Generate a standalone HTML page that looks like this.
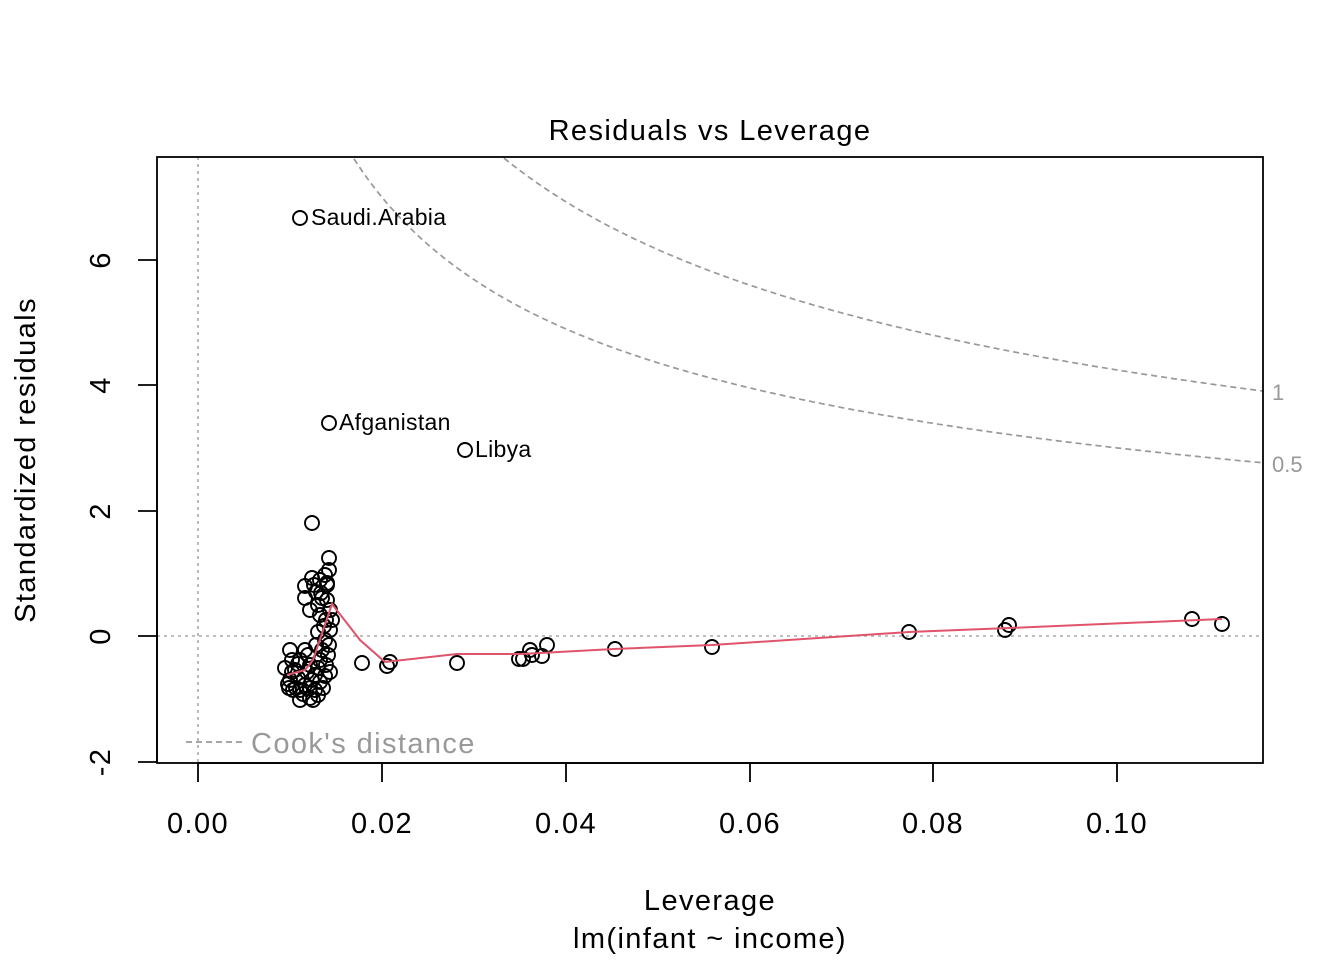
<!DOCTYPE html><html><head><style>body{margin:0;background:#fff}svg{display:block}text{font-family:"Liberation Sans",sans-serif}</style></head><body>
<svg id="s" width="1344" height="960" xmlns="http://www.w3.org/2000/svg">
<text x="710" y="140" font-size="29" letter-spacing="1.4" text-anchor="middle">Residuals vs Leverage</text>
<line x1="198" y1="157" x2="198" y2="763" stroke="#aaa" stroke-dasharray="3,4" stroke-width="1.6"/>
<line x1="157" y1="636" x2="1263" y2="636" stroke="#aaa" stroke-dasharray="3,4" stroke-width="1.6"/>
<g id="c" fill="none" stroke="#999" stroke-width="1.7" stroke-dasharray="6,4"></g>
<g id="p" fill="none" stroke="#000" stroke-width="1.9"></g>
<polyline fill="none" stroke="#df536b" stroke-width="2" points="287,675 305,670 313,660 332,604 360,640 385,662 457,654 520,654 540,653 614,649 712,645 909,632 1009,628 1222,619"/>
<rect x="157" y="157" width="1106" height="606" fill="none" stroke="#000" stroke-width="1.8"/>
<g stroke="#000" stroke-width="1.8"><line x1="198" y1="763" x2="1117" y2="763"/><line x1="198" y1="763" x2="198" y2="782"/><line x1="382" y1="763" x2="382" y2="782"/><line x1="566" y1="763" x2="566" y2="782"/><line x1="750" y1="763" x2="750" y2="782"/><line x1="933" y1="763" x2="933" y2="782"/><line x1="1117" y1="763" x2="1117" y2="782"/>
<line x1="157" y1="260" x2="157" y2="762"/><line x1="138" y1="260" x2="157" y2="260"/><line x1="138" y1="385" x2="157" y2="385"/><line x1="138" y1="511" x2="157" y2="511"/><line x1="138" y1="636" x2="157" y2="636"/><line x1="138" y1="762" x2="157" y2="762"/></g>
<g font-size="29" text-anchor="middle" letter-spacing="1.4"><text x="198" y="833">0.00</text><text x="382" y="833">0.02</text><text x="566" y="833">0.04</text><text x="750" y="833">0.06</text><text x="933" y="833">0.08</text><text x="1117" y="833">0.10</text>
<text x="710" y="910">Leverage</text><text x="710" y="948">lm(infant ~ income)</text></g>
<g font-size="29" text-anchor="middle" letter-spacing="1.4"><text transform="translate(110,260) rotate(-90)">6</text><text transform="translate(110,385) rotate(-90)">4</text><text transform="translate(110,511) rotate(-90)">2</text><text transform="translate(110,636) rotate(-90)">0</text><text transform="translate(110,762) rotate(-90)">-2</text>
<text transform="translate(35,460) rotate(-90)">Standardized residuals</text></g>
<g font-size="23" letter-spacing="0.3"><text x="311" y="225">Saudi.Arabia</text><text x="339" y="430">Afganistan</text><text x="475" y="457">Libya</text></g>
<g font-size="22" fill="#999"><text x="1272" y="400">1</text><text x="1272" y="472">0.5</text></g>
<line x1="186" y1="742" x2="244" y2="742" stroke="#999" stroke-width="1.7" stroke-dasharray="6,4"/>
<text x="251" y="753" font-size="29" fill="#999" letter-spacing="1.4">Cook's distance</text>
</svg>
<script>
var c=document.getElementById('c');
[0.5,1].forEach(function(D){var d='';for(var px=300;px<=1263;px+=3){var h=(px-198)/9200;var r=Math.sqrt(D*2*(1-h)/h);var y=636-r*62.67;if(y<157)continue;d+=(d?'L':'M')+px+','+y.toFixed(1);}var p=document.createElementNS('http://www.w3.org/2000/svg','path');p.setAttribute('d',d);c.appendChild(p);});
var pts=[[312,523],[329,558],[329,570],[327,583],[325,575],[320,580],[314,585],[305,586],[305,598],[310,610],[318,605],[322,598],[327,600],[330,610],[326,620],[330,630],[318,632],[325,640],[328,655],[290,650],[292,660],[295,670],[290,680],[293,690],[300,700],[310,698],[315,690],[320,682],[325,676],[330,672],[300,660],[305,650],[310,665],[315,675],[305,685],[298,678],[320,660],[322,650],[316,645],[308,655],[285,668],[288,684],[312,680],[318,695],[326,665],[300,690],[296,688],[303,694],[313,700],[292,672],[298,664],[307,672],[318,668],[323,688],[310,688],[289,688],[324,626],[320,615],[316,592],[312,578],[321,593],[332,620],[329,645],[327,585],[362,663],[387,666],[390,662],[457,663],[519,659],[523,659],[530,650],[532,655],[542,656],[547,645],[615,649],[712,647],[909,632],[1005,630],[1009,625],[1192,619],[1222,624],[300,218],[329,423],[465,450]];
var g=document.getElementById('p');pts.forEach(function(q){var e=document.createElementNS('http://www.w3.org/2000/svg','circle');e.setAttribute('cx',q[0]);e.setAttribute('cy',q[1]);e.setAttribute('r',7);g.appendChild(e);});
</script>
</body></html>
